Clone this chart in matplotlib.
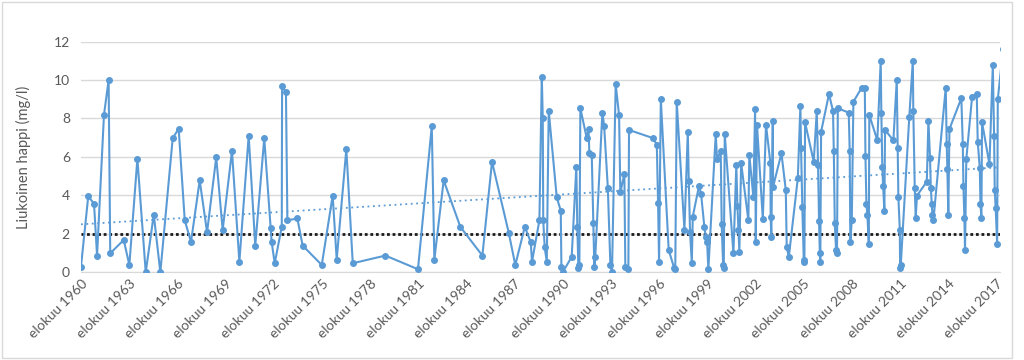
import numpy as np
import matplotlib
matplotlib.use("Agg")
import matplotlib.pyplot as plt
from matplotlib.patches import Rectangle

# näytteenottoajat (desimaalivuosina) ja liukoinen happi (mg/l)
years = [
    1960.62, 1961.07, 1961.43, 1961.62, 1962.05, 1962.34, 1962.44, 1963.28, 1963.63, 1964.13,
    1964.65, 1965.15, 1965.56, 1966.33, 1966.70, 1967.08, 1967.47, 1968.01, 1968.47, 1969.04,
    1969.44, 1970.02, 1970.48, 1971.06, 1971.47, 1972.03, 1972.43, 1972.49, 1972.68, 1973.12,
    1973.14, 1973.38, 1973.47, 1974.09, 1974.42, 1975.61, 1976.29, 1976.54, 1977.14, 1977.54,
    1979.57, 1981.60, 1982.46, 1982.62, 1983.20, 1984.24, 1985.61, 1986.21, 1987.25, 1987.66,
    1988.25, 1988.62, 1988.70, 1989.16, 1989.31, 1989.37, 1989.40, 1989.49, 1989.62, 1989.74,
    1990.24, 1990.49, 1990.53, 1990.61, 1991.17, 1991.46, 1991.52, 1991.59, 1991.65, 1991.71,
    1992.11, 1992.22, 1992.27, 1992.42, 1992.52, 1992.58, 1992.64, 1993.08, 1993.19, 1993.42,
    1993.58, 1993.68, 1993.91, 1994.12, 1994.20, 1994.45, 1994.51, 1994.70, 1994.74, 1996.26,
    1996.47, 1996.55, 1996.61, 1996.72, 1997.21, 1997.56, 1997.62, 1997.71, 1998.19, 1998.40,
    1998.46, 1998.54, 1998.65, 1998.71, 1999.10, 1999.23, 1999.43, 1999.52, 1999.60, 1999.68,
    2000.14, 2000.22, 2000.45, 2000.51, 2000.60, 2000.64, 2000.70, 2001.24, 2001.42, 2001.49,
    2001.55, 2001.61, 2001.72, 2002.17, 2002.23, 2002.48, 2002.59, 2002.63, 2002.71, 2003.07,
    2003.27, 2003.54, 2003.56, 2003.60, 2003.69, 2003.71, 2004.23, 2004.50, 2004.56, 2004.69,
    2005.25, 2005.41, 2005.45, 2005.53, 2005.62, 2005.66, 2005.70, 2006.24, 2006.43, 2006.51,
    2006.57, 2006.62, 2006.65, 2006.70, 2007.19, 2007.44, 2007.49, 2007.55, 2007.63, 2007.69,
    2007.74, 2008.42, 2008.48, 2008.52, 2008.61, 2008.71, 2009.23, 2009.42, 2009.46, 2009.52,
    2009.58, 2009.67, 2009.70, 2010.20, 2010.41, 2010.45, 2010.51, 2010.56, 2010.64, 2010.68,
    2011.20, 2011.41, 2011.47, 2011.51, 2011.60, 2011.62, 2011.66, 2012.19, 2012.41, 2012.44,
    2012.53, 2012.59, 2012.67, 2013.28, 2013.38, 2013.48, 2013.53, 2013.59, 2013.63, 2013.69,
    2014.46, 2014.52, 2014.56, 2014.62, 2014.69, 2015.43, 2015.52, 2015.56, 2015.62, 2015.66,
    2015.74, 2016.10, 2016.39, 2016.45, 2016.58, 2016.62, 2016.68, 2016.72, 2017.18, 2017.39,
    2017.47, 2017.51, 2017.57, 2017.66, 2017.70, 2018.03,
]
happi = [
    0.3, 3.95, 3.57, 0.87, 8.18, 10.0, 0.99, 1.68, 0.38, 5.9,
    0.0, 3.0, 0.0, 6.97, 7.47, 2.7, 1.58, 4.78, 2.08, 5.98,
    2.2, 6.31, 0.55, 7.1, 1.39, 6.97, 2.29, 1.58, 0.47, 2.37,
    9.69, 9.36, 2.7, 2.8, 1.39, 0.38, 3.99, 0.66, 6.4, 0.47,
    0.87, 0.16, 7.6, 0.66, 4.78, 2.36, 0.87, 5.75, 2.06, 0.38,
    2.36, 1.58, 0.55, 2.7, 10.17, 8.0, 2.7, 1.3, 0.55, 8.39,
    3.9, 3.2, 0.3, 0.0, 0.8, 5.48, 2.37, 0.2, 0.38, 8.53,
    6.97, 7.45, 6.19, 6.1, 2.58, 0.3, 0.81, 8.3, 7.63, 4.4,
    0.38, 0.0, 9.77, 8.18, 4.16, 5.11, 0.3, 0.16, 7.4, 6.97,
    6.62, 3.59, 0.52, 9.0, 1.16, 0.2, 0.17, 8.87, 2.2, 7.31,
    4.77, 2.08, 0.5, 2.9, 4.5, 4.05, 2.37, 1.85, 1.6, 0.16,
    7.19, 5.88, 6.31, 2.5, 0.38, 0.2, 7.19, 0.99, 5.58, 3.47,
    2.2, 1.07, 5.7, 2.7, 6.1, 3.93, 8.49, 1.59, 7.66, 2.77,
    7.66, 5.7, 2.88, 1.85, 7.87, 4.45, 6.19, 4.28, 1.3, 0.81,
    4.89, 8.67, 6.48, 3.41, 0.64, 0.55, 7.8, 5.75, 8.39, 5.58,
    2.69, 0.99, 0.55, 7.31, 9.27, 8.39, 6.31, 2.58, 1.16, 0.99,
    8.53, 8.3, 6.31, 1.59, 2.72, 8.87, 9.6, 9.6, 6.07, 3.57,
    2.98, 1.47, 8.18, 6.86, 11.0, 8.27, 5.48, 4.5, 3.19, 7.4,
    6.86, 10.0, 6.48, 3.9, 2.2, 0.2, 0.38, 8.09, 11.0, 8.39,
    4.4, 2.84, 3.99, 4.71, 7.87, 5.96, 4.4, 3.57, 2.98, 2.7,
    9.6, 6.69, 5.37, 2.98, 7.45, 9.05, 6.69, 4.5, 2.8, 1.16,
    5.89, 9.13, 9.29, 6.79, 5.41, 3.57, 2.8, 7.8, 5.62, 10.78,
    7.1, 4.28, 3.33, 1.47, 9.0, 11.6,
]
raja_arvo = 2.0
tick_years = list(range(1960, 2018, 3))
tick_labels = ["elokuu %d" % y for y in tick_years]

sininen = "#5B9BD5"
harmaa = "#595959"

plt.rcParams['font.family'] = ['Lato', 'DejaVu Sans']

fig = plt.figure(figsize=(10.24, 3.6), dpi=100)
ax = fig.add_axes([0.0791, 0.2436, 0.8975, 0.6411])

x = np.array(years)
y = np.array(happi)

# mittaukset
ax.plot(x, y, color=sininen, linewidth=1.5, marker='o', markersize=4,
        markerfacecolor=sininen, markeredgecolor=sininen, zorder=3)

# lineaarinen trendi
k, b = np.polyfit(x, y, 1)
xt = np.array([1960.62, 2017.9])
ax.plot(xt, k * xt + b, color=sininen, linewidth=1.3, linestyle=(0, (1, 2)), zorder=2)

# raja-arvo 2 mg/l
ax.axhline(raja_arvo, color="#1a1a1a", linewidth=2, linestyle=(0, (1, 1)), zorder=2)

ax.set_xlim(1960.62, 2017.84)
ax.set_ylim(0, 12)
ax.set_yticks(range(0, 13, 2))
ax.set_xticks([t + 0.62 for t in tick_years])
ax.set_xticklabels(tick_labels, rotation=45, ha='right', va='top',
                   rotation_mode='anchor', fontsize=10, color=harmaa)
ax.tick_params(axis='y', labelsize=10, labelcolor=harmaa, length=0, pad=8)
ax.tick_params(axis='x', length=0, pad=4)

ax.grid(axis='y', color="#d9d9d9", linewidth=1)
ax.set_axisbelow(True)
for s in ['top', 'right', 'left']:
    ax.spines[s].set_visible(False)
ax.spines['bottom'].set_color("#d9d9d9")

ax.set_ylabel("Liukoinen happi (mg/l)", fontsize=10.5, color=harmaa, labelpad=16)

# kaavion reunus
fig.patches.append(Rectangle((2 / 1024, 2 / 360), 1010 / 1024, 356 / 360,
                             transform=fig.transFigure, fill=False,
                             edgecolor="#d9d9d9", linewidth=1))

fig.savefig("out.png", dpi=100)
